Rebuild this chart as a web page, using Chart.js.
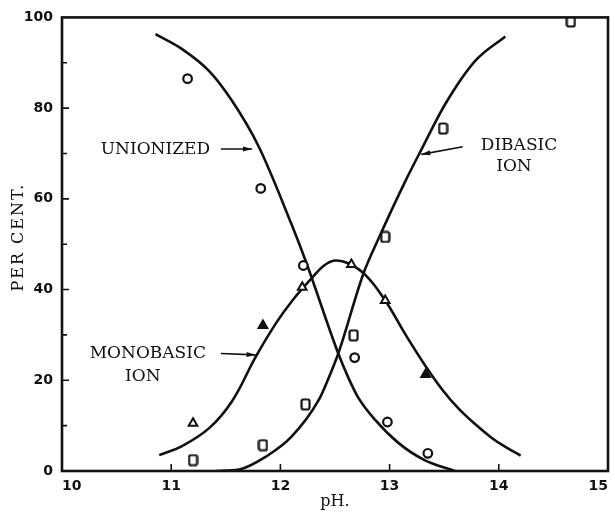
<!DOCTYPE html>
<html>
<head>
<meta charset="utf-8">
<script src="https://cdn.jsdelivr.net/npm/chart.js@4.4.1/dist/chart.umd.min.js"></script>
<style>
  html, body { margin: 0; padding: 0; background: #fff; }
</style>
</head>
<body>
<canvas id="chart" width="615" height="514"></canvas>
<script>
// measured points (per cent of each species vs pH)
const unionizedPH = [11.15, 11.82, 12.21, 12.68, 12.98, 13.35];
const unionizedPct = [86.5, 62.3, 45.3, 25.0, 10.8, 3.9];
const monobasicPH = [11.20, 11.84, 12.20, 12.65, 12.96, 13.33];
const monobasicPct = [10.5, 32.1, 40.5, 45.5, 37.6, 21.3];
const dibasicPH = [11.20, 11.84, 12.23, 12.67, 12.96, 13.49, 14.66];
const dibasicPct = [2.4, 5.7, 14.7, 29.9, 51.6, 75.5, 99.1];
// which triangles are drawn solid
const monobasicFilled = [false, true, false, false, false, true];

// drawn curves
const unionizedCurvePH = [10.856, 11.10, 11.35, 11.56, 11.80, 12.10, 12.23, 12.53, 12.62, 12.71, 12.87, 13.08, 13.32, 13.60];
const unionizedCurvePct = [96.3, 93.0, 88.1, 81.5, 71.6, 54.5, 46.4, 25.9, 20.7, 16.3, 11.2, 6.2, 2.4, 0];
const monobasicCurvePH = [10.89, 11.10, 11.35, 11.56, 11.77, 11.96, 12.11, 12.29, 12.40, 12.50, 12.62, 12.78, 12.96, 13.14, 13.33, 13.49, 13.63, 13.78, 13.93, 14.06, 14.20];
const monobasicCurvePct = [3.5, 5.5, 9.5, 15.5, 25.0, 32.6, 37.6, 42.6, 45.3, 46.4, 45.8, 43.2, 37.6, 30.3, 23.1, 17.7, 13.8, 10.4, 7.4, 5.3, 3.4];
const dibasicCurvePH = [11.41, 11.62, 11.87, 12.10, 12.35, 12.44, 12.53, 12.76, 12.90, 13.14, 13.29, 13.51, 13.78, 14.06];
const dibasicCurvePct = [0, 0.3, 3.2, 7.5, 15.6, 20.4, 25.9, 43.5, 51.3, 63.7, 70.8, 80.9, 90.3, 95.8];

const xTicks = [10, 11, 12, 13, 14, 15];
const yTicks = [0, 20, 40, 60, 80, 100];

const serif = '"DejaVu Serif", "Liberation Serif", serif';

function pairs(xs, ys) {
  return xs.map((x, i) => ({ x: x, y: ys[i] }));
}

// small upright rounded box used for the dibasic points
function boxMarker() {
  const c = document.createElement("canvas");
  c.width = 11;
  c.height = 13;
  const g = c.getContext("2d");
  g.strokeStyle = "#111";
  g.lineWidth = 2.2;
  g.beginPath();
  g.roundRect(1.5, 1.5, 8, 10, 2);
  g.stroke();
  return c;
}

const framePlugin = {
  id: "frame",
  afterDraw(chart) {
    const { ctx, chartArea, scales } = chart;
    const a = chartArea;
    ctx.save();
    ctx.strokeStyle = "#111";
    ctx.lineWidth = 1.6;
    // inside tick marks
    ctx.beginPath();
    for (let v = 10; v < 100; v += 10) {
      const y = scales.y.getPixelForValue(v);
      ctx.moveTo(a.left, y);
      ctx.lineTo(a.left + (v % 20 === 0 ? 7 : 5), y);
    }
    for (let v = 11; v < 15; v++) {
      const x = scales.x.getPixelForValue(v);
      ctx.moveTo(x, a.bottom);
      ctx.lineTo(x, a.bottom - 7);
    }
    ctx.stroke();
    // box
    ctx.lineWidth = 2.6;
    ctx.strokeRect(a.left, a.top, a.right - a.left, a.bottom - a.top);

    // y axis title, spaced caps
    ctx.fillStyle = "#111";
    ctx.font = "16px " + serif;
    ctx.letterSpacing = "2px";
    ctx.textAlign = "center";
    ctx.textBaseline = "middle";
    ctx.translate(19, 237);
    ctx.rotate(-Math.PI / 2);
    ctx.fillText("PER CENT.", 0, 0);
    ctx.restore();
  }
};

const notesPlugin = {
  id: "notes",
  afterDatasetsDraw(chart, args, opts) {
    const { ctx, scales } = chart;
    const px = v => scales.x.getPixelForValue(v);
    const py = v => scales.y.getPixelForValue(v);
    ctx.save();
    ctx.fillStyle = "#111";
    ctx.strokeStyle = "#111";
    ctx.font = "17px " + serif;
    ctx.textAlign = "center";
    ctx.textBaseline = "middle";
    opts.texts.forEach(t => ctx.fillText(t.text, px(t.x), py(t.y)));
    ctx.lineWidth = 1.6;
    opts.arrows.forEach(ar => {
      const x0 = px(ar.from[0]), y0 = py(ar.from[1]);
      const x1 = px(ar.to[0]), y1 = py(ar.to[1]);
      const ang = Math.atan2(y1 - y0, x1 - x0);
      ctx.beginPath();
      ctx.moveTo(x0, y0);
      ctx.lineTo(x1, y1);
      ctx.stroke();
      ctx.beginPath();
      ctx.moveTo(x1, y1);
      ctx.lineTo(x1 - 9 * Math.cos(ang) + 2.5 * Math.sin(ang), y1 - 9 * Math.sin(ang) - 2.5 * Math.cos(ang));
      ctx.lineTo(x1 - 9 * Math.cos(ang) - 2.5 * Math.sin(ang), y1 - 9 * Math.sin(ang) + 2.5 * Math.cos(ang));
      ctx.closePath();
      ctx.fill();
    });
    ctx.restore();
  }
};

Chart.register(framePlugin, notesPlugin);

const curveStyle = {
  type: "scatter",
  showLine: true,
  borderColor: "#111",
  borderWidth: 2.6,
  pointRadius: 0,
  fill: false,
  cubicInterpolationMode: "monotone"
};

new Chart(document.getElementById("chart"), {
  type: "scatter",
  data: {
    datasets: [
      {
        label: "Unionized (measured)",
        data: pairs(unionizedPH, unionizedPct),
        pointStyle: "circle",
        pointRadius: 4.3,
        borderWidth: 2.2,
        borderColor: "#111",
        backgroundColor: "#fff"
      },
      {
        label: "Monobasic ion (measured)",
        data: pairs(monobasicPH, monobasicPct),
        pointStyle: "triangle",
        pointRadius: 5,
        borderWidth: 2,
        borderColor: "#111",
        backgroundColor: monobasicFilled.map(f => (f ? "#111" : "#fff"))
      },
      {
        label: "Dibasic ion (measured)",
        data: pairs(dibasicPH, dibasicPct),
        pointStyle: boxMarker(),
        pointRadius: 5
      },
      Object.assign({ label: "Unionized", data: pairs(unionizedCurvePH, unionizedCurvePct) }, curveStyle),
      Object.assign({ label: "Monobasic ion", data: pairs(monobasicCurvePH, monobasicCurvePct) }, curveStyle,
        { cubicInterpolationMode: "default", tension: 0.4 }),
      Object.assign({ label: "Dibasic ion", data: pairs(dibasicCurvePH, dibasicCurvePct) }, curveStyle)
    ]
  },
  options: {
    responsive: false,
    animation: false,
    layout: {
      padding: { left: 0, right: 4, top: 16, bottom: 0 }
    },
    plugins: {
      legend: { display: false },
      tooltip: { enabled: false },
      notes: {
        texts: [
          { text: "UNIONIZED", x: 10.855, y: 70.9 },
          { text: "MONOBASIC", x: 10.786, y: 25.9 },
          { text: "ION", x: 10.74, y: 20.9 },
          { text: "DIBASIC", x: 14.185, y: 71.8 },
          { text: "ION", x: 14.139, y: 67.1 }
        ],
        arrows: [
          { from: [11.455, 71.0], to: [11.74, 71.0] },
          { from: [11.455, 25.9], to: [11.773, 25.6] },
          { from: [13.67, 71.5], to: [13.29, 69.8] }
        ]
      }
    },
    scales: {
      x: {
        type: "linear",
        min: 10,
        max: 15,
        afterFit(scale) { scale.height = 43; },
        afterBuildTicks(scale) { scale.ticks = xTicks.map(v => ({ value: v })); },
        grid: { display: false, drawTicks: false },
        border: { display: false },
        ticks: {
          align: "inner",
          padding: 7,
          color: "#111",
          font: { family: '"DejaVu Sans"', size: 14, weight: "bold" }
        },
        title: {
          display: true,
          text: "pH.",
          color: "#111",
          font: { family: serif, size: 16 },
          padding: { top: 0, bottom: 3 }
        }
      },
      y: {
        type: "linear",
        min: 0,
        max: 100,
        afterFit(scale) { scale.width = 62; },
        afterBuildTicks(scale) { scale.ticks = yTicks.map(v => ({ value: v })); },
        grid: { display: false, drawTicks: false },
        border: { display: false },
        ticks: {
          padding: 9,
          color: "#111",
          font: { family: '"DejaVu Sans"', size: 14, weight: "bold" }
        }
      }
    }
  }
});
</script>
</body>
</html>
